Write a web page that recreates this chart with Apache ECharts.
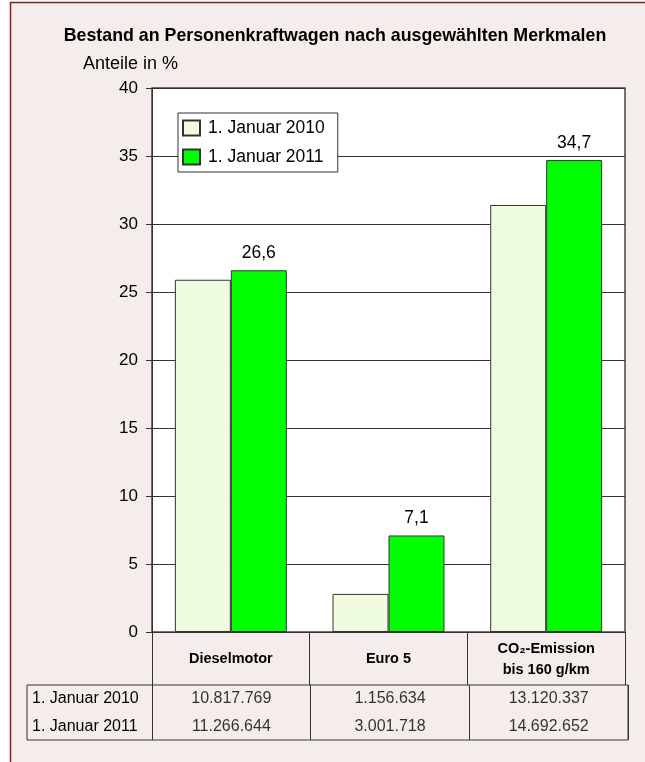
<!DOCTYPE html>
<html><head><meta charset="utf-8">
<script src="https://cdn.jsdelivr.net/npm/echarts@6/dist/echarts.min.js"></script>
<style>
html,body{margin:0;padding:0;background:#fff;overflow:hidden;width:645px;height:762px;}
#c{position:absolute;left:0;top:0;width:645px;height:762px;}
</style></head>
<body>
<div id="c"></div>
<script>
const categories = ['Dieselmotor', 'Euro 5', 'CO₂-Emission\nbis 160 g/km'];
const seriesNames = ['1. Januar 2010', '1. Januar 2011'];
const share2010 = [25.9, 2.8, 31.4];
const share2011 = [26.6, 7.1, 34.7];
const count2010 = [10817769, 1156634, 13120337];
const count2011 = [11266644, 3001718, 14692652];
const yTicks = {min: 0, max: 40, interval: 5};

const FONT = 'Liberation Sans, Arial, sans-serif';
const fmtInt = n => String(n).replace(/\B(?=(\d{3})+(?!\d))/g, '.');
const fmtDec = v => v.toFixed(1).replace('.', ',');

const tableData = [];
categories.forEach((c, i) => {
  tableData.push([c, seriesNames[0], count2010[i]]);
  tableData.push([c, seriesNames[1], count2011[i]]);
});

const chart = echarts.init(document.getElementById('c'), null, {renderer: 'canvas'});
chart.setOption({
  backgroundColor: '#fff',
  animation: false,
  textStyle: {fontFamily: FONT},
  title: {
    text: 'Bestand an Personenkraftwagen nach ausgewählten Merkmalen',
    left: 330, top: 22, textAlign: 'center',
    textStyle: {fontSize: 17.8, fontWeight: 'bold', color: '#000', fontFamily: FONT}
  },
  legend: {
    data: seriesNames.map(n => ({name: n, icon: 'rect'})),
    orient: 'vertical',
    left: 178, top: 113,
    backgroundColor: '#fff',
    borderColor: '#333', borderWidth: 1,
    padding: [6, 13, 6, 4],
    itemWidth: 17, itemHeight: 15, itemGap: 11,
    textStyle: {fontSize: 17.5, color: '#000', fontFamily: FONT, padding: [0, 0, 0, 3]}
  },
  grid: [
    {left: 152, right: 20, top: 88, bottom: 130, show: true, backgroundColor: '#fff', borderColor: '#444', borderWidth: 1.5, containLabel: false},
    {left: 152, right: 17, top: 685, height: 55, show: false, containLabel: false}
  ],
  xAxis: [
    {
      type: 'category', gridIndex: 0, data: categories,
      axisLine: {lineStyle: {color: '#333', width: 1}},
      axisTick: {show: true, length: 53, lineStyle: {color: '#333'}},
      axisLabel: {fontSize: 14.5, fontWeight: 'bold', color: '#000', margin: 27, verticalAlign: 'middle', lineHeight: 21, fontFamily: FONT}
    },
    {
      type: 'category', gridIndex: 1, data: categories,
      axisLine: {show: false}, axisTick: {show: false}, axisLabel: {show: false},
      splitLine: {show: true, lineStyle: {color: '#333', width: 1}}
    }
  ],
  yAxis: [
    {
      type: 'value', gridIndex: 0, min: yTicks.min, max: yTicks.max, interval: yTicks.interval,
      name: 'Anteile in %', nameLocation: 'end', nameGap: 15,
      nameTextStyle: {fontSize: 18, color: '#000', align: 'right', padding: [0, -26, 0, 0], fontFamily: FONT},
      axisLine: {show: true, lineStyle: {color: '#333'}},
      axisTick: {show: true, length: 6, lineStyle: {color: '#333'}},
      axisLabel: {fontSize: 17, color: '#000', margin: 14, fontFamily: FONT},
      splitLine: {show: true, lineStyle: {color: '#333', width: 1}}
    },
    {
      type: 'category', gridIndex: 1, data: seriesNames, inverse: true,
      axisLine: {show: false}, axisTick: {show: false}, splitLine: {show: false},
      axisLabel: {fontSize: 16, color: '#000', align: 'left', margin: 120, fontFamily: FONT}
    }
  ],
  series: [
    {
      name: seriesNames[0], type: 'bar', xAxisIndex: 0, yAxisIndex: 0,
      data: share2010, barGap: '0%', barCategoryGap: '29%',
      itemStyle: {color: '#F0FCE0', borderColor: '#333', borderWidth: 1}
    },
    {
      name: seriesNames[1], type: 'bar', xAxisIndex: 0, yAxisIndex: 0,
      data: share2011, barGap: '0%', barCategoryGap: '29%',
      itemStyle: {color: '#00FF00', borderColor: '#333', borderWidth: 1},
      label: {show: true, position: 'top', distance: 8, fontSize: 17.5, color: '#000', fontFamily: FONT,
        formatter: p => fmtDec(p.value)}
    },
    {
      name: 'table', type: 'scatter', xAxisIndex: 1, yAxisIndex: 1,
      data: tableData, symbolSize: 0, encode: {x: 0, y: 1},
      label: {show: true, position: 'inside', fontSize: 16, color: '#000', fontFamily: FONT,
        formatter: p => fmtInt(p.value[2])},
      silent: true
    }
  ],
  graphic: [
    {type: 'rect', z: -10, silent: true, shape: {x: 10, y: 2, width: 645, height: 770}, style: {fill: '#F5EDEB', stroke: null, lineWidth: 0}},
    {type: 'line', z: -9, silent: true, shape: {x1: 10.5, y1: 2, x2: 10.5, y2: 770}, style: {stroke: '#8B1E1E', lineWidth: 1.5}},
    {type: 'line', z: -9, silent: true, shape: {x1: 10, y1: 2.5, x2: 650, y2: 2.5}, style: {stroke: '#8B1E1E', lineWidth: 1.5}},
    {type: 'rect', shape: {x: 27, y: 685, width: 601, height: 55}, style: {fill: 'none', stroke: '#333', lineWidth: 1}, silent: true}
  ]
});
</script>
</body></html>
